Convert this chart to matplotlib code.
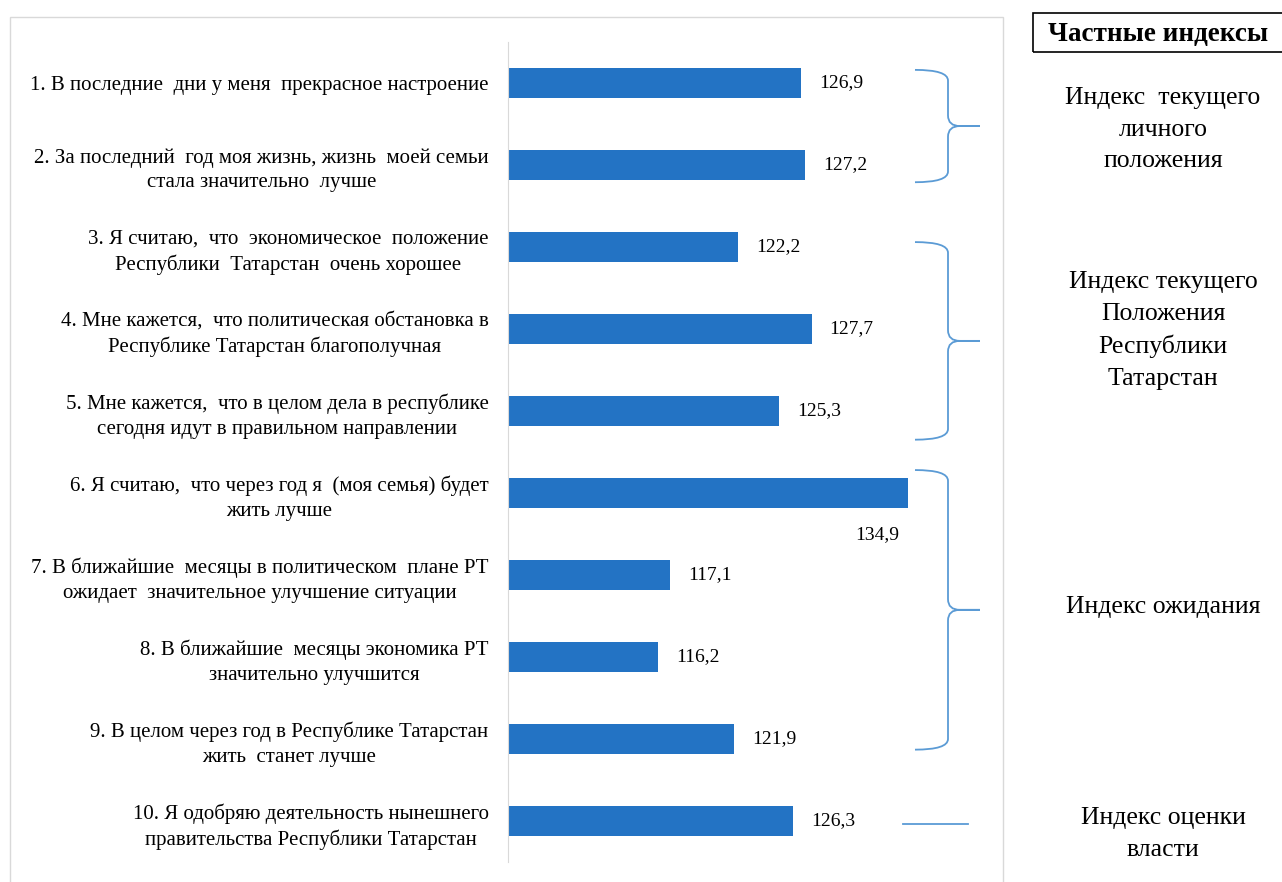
import numpy as np
import matplotlib.pyplot as plt
import matplotlib as mpl
from matplotlib.path import Path
from matplotlib.patches import PathPatch, Rectangle
from matplotlib.transforms import blended_transform_factory

mpl.rcParams['font.family'] = ['Liberation Serif', 'DejaVu Serif']

# data
labels = [
    '1. В последние  дни у меня  прекрасное настроение',
    '2. За последний  год моя жизнь, жизнь  моей семьи\nстала значительно  лучше',
    '3. Я считаю,  что  экономическое  положение\nРеспублики  Татарстан  очень хорошее',
    '4. Мне кажется,  что политическая обстановка в\nРеспублике Татарстан благополучная',
    '5. Мне кажется,  что в целом дела в республике\nсегодня идут в правильном направлении',
    '6. Я считаю,  что через год я  (моя семья) будет\nжить лучше',
    '7. В ближайшие  месяцы в политическом  плане РТ\nожидает  значительное улучшение ситуации',
    '8. В ближайшие  месяцы экономика РТ\nзначительно улучшится',
    '9. В целом через год в Республике Татарстан\nжить  станет лучше',
    '10. Я одобряю деятельность нынешнего\nправительства Республики Татарстан',
]
values = [126.9, 127.2, 122.2, 127.7, 125.3, 134.9, 117.1, 116.2, 121.9, 126.3]
value_text = ['126,9', '127,2', '122,2', '127,7', '125,3', '134,9', '117,1', '116,2', '121,9', '126,3']

group_names = [
    'Индекс  текущего\nличного\nположения',
    'Индекс текущего\nПоложения\nРеспублики\nТатарстан',
    'Индекс ожидания',
    'Индекс оценки\nвласти',
]
group_members = [(0, 1), (2, 4), (5, 8), (9, 9)]

bar_color = '#2373c4'
brace_color = '#5b9bd5'

fig = plt.figure(figsize=(12.82, 8.82), dpi=100)
ax = fig.add_axes([508 / 1282, 20 / 882, 468 / 1282, 820 / 882])

y = np.arange(len(values))
ax.barh(y, np.array(values) - 105, left=105, height=0.37, color=bar_color)
ax.set_xlim(105, 140)
ax.set_ylim(len(values) - 0.5, -0.5)

ax.set_yticks(y)
ax.set_yticklabels(labels, fontsize=15)
for t in ax.get_yticklabels():
    t.set_multialignment('center')
    t.set_linespacing(1.38)
ax.tick_params(axis='y', length=0, pad=14)
ax.set_xticks([])
for s in ['top', 'right', 'bottom']:
    ax.spines[s].set_visible(False)
ax.spines['left'].set_color('#d9d9d9')

# value labels
for i, (v, txt) in enumerate(zip(values, value_text)):
    if v == max(values):
        ax.annotate(txt, (v, i), xytext=(-6, -30), textcoords='offset points',
                    ha='right', va='center', fontsize=14)
    else:
        ax.annotate(txt, (v, i), xytext=(13, 0), textcoords='offset points',
                    ha='left', va='center', fontsize=14)

# braces (x in figure fraction, y in data)
tr = blended_transform_factory(fig.transFigure, ax.transData)
brace_spans = [(-0.16, 1.21), (1.94, 4.35), (4.72, 8.13)]
x0, xv, xm, xt = 915 / 1282, 948 / 1282, 960 / 1282, 980 / 1282
r = 0.13
for yt, yb in brace_spans:
    ym = (yt + yb) / 2
    verts = [(x0, yt), (xv, yt), (xv, yt + r), (xv, ym - r), (xv, ym), (xm, ym), (xt, ym),
             (xm, ym), (xv, ym), (xv, ym + r), (xv, yb - r), (xv, yb), (x0, yb)]
    codes = [Path.MOVETO, Path.CURVE3, Path.CURVE3, Path.LINETO, Path.CURVE3, Path.CURVE3,
             Path.LINETO, Path.LINETO, Path.CURVE3, Path.CURVE3, Path.LINETO, Path.CURVE3,
             Path.CURVE3]
    fig.add_artist(PathPatch(Path(verts, codes), transform=tr, fill=False,
                             edgecolor=brace_color, lw=1.3))
last = group_members[-1][0]
fig.add_artist(plt.Line2D([903 / 1282, 968 / 1282], [last + 0.04, last + 0.04],
                          transform=tr, color=brace_color, lw=1.3))

# group labels
label_y = [0.57, 3.02, 6.39, 9.16]
for name, yy in zip(group_names, label_y):
    fig.text(1163 / 1282, yy, name, transform=tr, ha='center', va='center',
             fontsize=18.5, linespacing=1.55)

# outer chart border and title box
fig.add_artist(Rectangle((10 / 1282, -0.05), 993 / 1282, 1.05 - 17 / 882,
                         transform=fig.transFigure, fill=False, edgecolor='#d9d9d9', lw=1))
fig.add_artist(Rectangle((1033 / 1282, 1 - 52 / 882), 260 / 1282, 39 / 882,
                         transform=fig.transFigure, fill=False, edgecolor='black', lw=1.2))
fig.text(1158 / 1282, 1 - 34 / 882, 'Частные индексы', ha='center', va='center',
         fontsize=19.5, fontweight='bold')

fig.savefig('out.png', dpi=100)
